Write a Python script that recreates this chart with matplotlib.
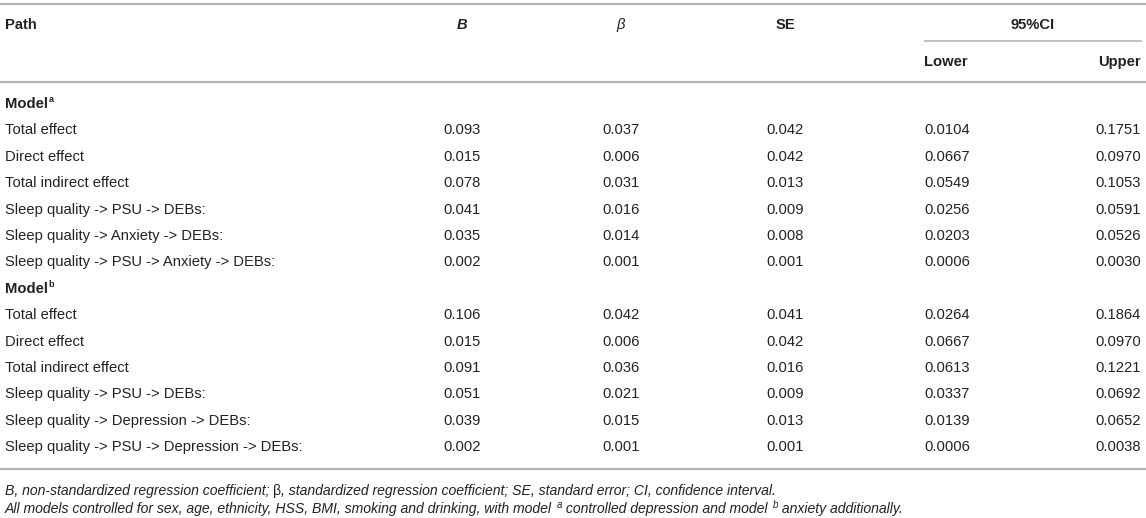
import matplotlib
matplotlib.use("Agg")
import matplotlib.pyplot as plt

plt.rcParams['font.family'] = ['Liberation Sans', 'DejaVu Sans']

# ---- data ----
columns = ["Path", "B", "β", "SE", "95%CI"]
ci_sub = ["Lower", "Upper"]
model_names = ["Model", "Model"]
model_marks = ["a", "b"]

paths_a = ["Total effect", "Direct effect", "Total indirect effect",
           "Sleep quality -> PSU -> DEBs:",
           "Sleep quality -> Anxiety -> DEBs:",
           "Sleep quality -> PSU -> Anxiety -> DEBs:"]
B_a = ["0.093", "0.015", "0.078", "0.041", "0.035", "0.002"]
beta_a = ["0.037", "0.006", "0.031", "0.016", "0.014", "0.001"]
SE_a = ["0.042", "0.042", "0.013", "0.009", "0.008", "0.001"]
lower_a = ["0.0104", "0.0667", "0.0549", "0.0256", "0.0203", "0.0006"]
upper_a = ["0.1751", "0.0970", "0.1053", "0.0591", "0.0526", "0.0030"]

paths_b = ["Total effect", "Direct effect", "Total indirect effect",
           "Sleep quality -> PSU -> DEBs:",
           "Sleep quality -> Depression -> DEBs:",
           "Sleep quality -> PSU -> Depression -> DEBs:"]
B_b = ["0.106", "0.015", "0.091", "0.051", "0.039", "0.002"]
beta_b = ["0.042", "0.006", "0.036", "0.021", "0.015", "0.001"]
SE_b = ["0.041", "0.042", "0.016", "0.009", "0.013", "0.001"]
lower_b = ["0.0264", "0.0667", "0.0613", "0.0337", "0.0139", "0.0006"]
upper_b = ["0.1864", "0.0970", "0.1221", "0.0692", "0.0652", "0.0038"]

foot1 = [("B, non-standardized regression coefficient; ", "italic"),
         ("β", "normal"),
         (", standardized regression coefficient; SE, standard error; CI, confidence interval.", "italic")]
foot2 = [("All models controlled for sex, age, ethnicity, HSS, BMI, smoking and drinking, with model ", "italic", False),
         ("a", "italic", True),
         (" controlled depression and model ", "italic", False),
         ("b", "italic", True),
         (" anxiety additionally.", "italic", False)]

# ---- layout ----
W, H = 1146, 518
fig = plt.figure(figsize=(W / 100, H / 100), dpi=100)
ax = fig.add_axes([0, 0, 1, 1])
ax.set_xlim(0, W)
ax.set_ylim(H, 0)
ax.axis("off")

TXT = "#222222"
LINE = "#b4b4b4"
FS = 10.6
FFS = 10.05

x_path = 5
x_B, x_beta, x_SE = 462, 621, 785
x_low, x_up = 924, 1141

fig.canvas.draw()
renderer = fig.canvas.get_renderer()


def width_data(t):
    bb = t.get_window_extent(renderer=renderer)
    inv = ax.transData.inverted()
    x0 = inv.transform((bb.x0, bb.y0))[0]
    x1 = inv.transform((bb.x1, bb.y0))[0]
    return x1 - x0


# horizontal rules
for y in (3.5, 81.5, 469):
    ax.plot([0, W], [y, y], color=LINE, lw=1.6, solid_capstyle="butt")
ax.plot([x_low, W - 4], [41, 41], color=LINE, lw=1.2, solid_capstyle="butt")

# header
yh1, yh2 = 25, 62
ax.text(x_path, yh1, columns[0], fontsize=FS, fontweight="bold", color=TXT, va="center", ha="left")
ax.text(x_B, yh1, columns[1], fontsize=FS, fontweight="bold", fontstyle="italic", color=TXT, va="center", ha="center")
ax.text(x_beta, yh1, columns[2], fontsize=FS, fontstyle="italic", color=TXT, va="center", ha="center")
ax.text(x_SE, yh1, columns[3], fontsize=FS, fontweight="bold", color=TXT, va="center", ha="center")
ax.text((x_low + x_up) / 2, yh1, columns[4], fontsize=FS, fontweight="bold", color=TXT, va="center", ha="center")
ax.text(x_low, yh2, ci_sub[0], fontsize=FS, fontweight="bold", color=TXT, va="center", ha="left")
ax.text(x_up, yh2, ci_sub[1], fontsize=FS, fontweight="bold", color=TXT, va="center", ha="right")

# body
y0, dy = 104, 26.4
row = 0
blocks = [(paths_a, B_a, beta_a, SE_a, lower_a, upper_a),
          (paths_b, B_b, beta_b, SE_b, lower_b, upper_b)]
for k, (p, b, be, se, lo, up) in enumerate(blocks):
    y = y0 + dy * row
    t = ax.text(x_path, y, model_names[k], fontsize=FS, fontweight="bold", color=TXT, va="center", ha="left")
    w = width_data(t)
    ax.text(x_path + w + 0.5, y - 4.5, model_marks[k], fontsize=FS * 0.62, fontweight="bold", color=TXT, va="center", ha="left")
    row += 1
    for i in range(len(p)):
        y = y0 + dy * row
        ax.text(x_path, y, p[i], fontsize=FS, color=TXT, va="center", ha="left")
        ax.text(x_B, y, b[i], fontsize=FS, color=TXT, va="center", ha="center")
        ax.text(x_beta, y, be[i], fontsize=FS, color=TXT, va="center", ha="center")
        ax.text(x_SE, y, se[i], fontsize=FS, color=TXT, va="center", ha="center")
        ax.text(x_low, y, lo[i], fontsize=FS, color=TXT, va="center", ha="left")
        ax.text(x_up, y, up[i], fontsize=FS, color=TXT, va="center", ha="right")
        row += 1

# footnotes
x = x_path
yf1 = 491
for s, style in foot1:
    t = ax.text(x, yf1, s, fontsize=FFS, fontstyle=style, color=TXT, va="center", ha="left")
    x += width_data(t)

x = x_path
yf2 = 509
for s, style, sup in foot2:
    if sup:
        t = ax.text(x + 1, yf2 - 4, s, fontsize=FFS * 0.7, fontstyle=style, color=TXT, va="center", ha="left")
        x += width_data(t) + 1
    else:
        t = ax.text(x, yf2, s, fontsize=FFS, fontstyle=style, color=TXT, va="center", ha="left")
        x += width_data(t)

fig.savefig("out.png", dpi=100, facecolor="white")
